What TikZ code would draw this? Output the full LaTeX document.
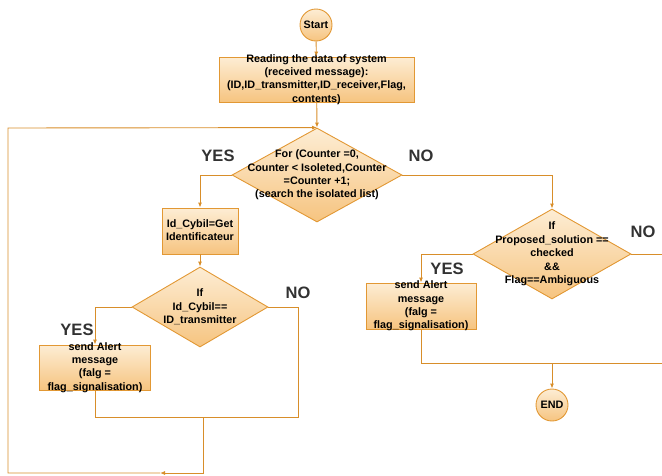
\documentclass[tikz,border=0pt]{standalone}
\usepackage{fontspec}
\setmainfont{Liberation Sans}
\usetikzlibrary{shapes.geometric,arrows.meta}
\definecolor{edge}{RGB}{226,152,52}
\definecolor{wire}{RGB}{216,142,42}
\definecolor{paletop}{RGB}{253,237,212}
\definecolor{deeptop}{RGB}{246,196,128}
\definecolor{labelgray}{RGB}{50,50,50}
\tikzset{
  shaded/.style={draw=edge, line width=0.9pt, top color=paletop, bottom color=deeptop, inner sep=0pt},
  box/.style={shaded, rectangle},
  decision/.style={shaded, diamond},
  terminal/.style={shaded, circle, minimum size=32pt, font=\bfseries\fontsize{10.8}{13}\selectfont},
  txt/.style={align=center, font=\bfseries\fontsize{10.8}{13.4}\selectfont, inner sep=0pt},
  answer/.style={font=\bfseries\fontsize{16.5}{17}\selectfont, text=labelgray, inner sep=0pt},
  wire/.style={draw=wire, line width=0.9pt},
  arr/.style={wire, -{Latex[length=5pt,width=4pt]}},
}
\begin{document}
\begin{tikzpicture}[x=1pt,y=-1pt]
\useasboundingbox (0,0) rectangle (662,475);
\clip (0,0) rectangle (662,475);

% shapes
\node[terminal] (start) at (316,25) {Start};
\node[box, minimum width=195pt, minimum height=45pt] (read) at (316.5,79.5) {};
\node[decision, minimum width=170pt, minimum height=94pt] (d1) at (317,175) {};
\node[box, minimum width=76pt, minimum height=46pt] (cybil) at (200,231) {};
\node[decision, minimum width=136pt, minimum height=80pt] (d2) at (200,307) {};
\node[box, minimum width=111pt, minimum height=45pt] (alert1) at (95,367.5) {};
\node[decision, minimum width=158pt, minimum height=90pt] (d3) at (552,254) {};
\node[box, minimum width=110pt, minimum height=46pt] (alert2) at (421,306) {};
\node[terminal] (end) at (552,405) {END};

% texts
\node[txt] (read-t) at (read.center) {Reading the data of system\\(received message):\\(ID,ID\_transmitter,ID\_receiver,Flag,\\contents)};
\node[txt] (d1-t) at (d1.center) {For (Counter =0,\\Counter < Isoleted,Counter\\=Counter +1;\\(search the isolated list)};
\node[txt] (cybil-t) at ([yshift=1pt]cybil.center) {Id\_Cybil=Get\\Identificateur};
\node[txt] (d2-t) at (d2.center) {If\\Id\_Cybil==\\ID\_transmitter};
\node[txt] (alert1-t) at (alert1.center) {send Alert\\message\\(falg =\\flag\_signalisation)};
\node[txt] (d3-t) at (d3.center) {If\\Proposed\_solution ==\\checked\\\&\&\\Flag==Ambiguous};
\node[txt] (alert2-t) at (alert2.center) {send Alert\\message\\(falg =\\flag\_signalisation)};

% branch labels
\node[answer] (yes1) at (218,156) {YES};
\node[answer] (no1) at (421,156) {NO};
\node[answer] (yes2) at (77,330) {YES};
\node[answer] (no2) at (298,293) {NO};
\node[answer] (yes3) at (447,269) {YES};
\node[answer] (no3) at (643,232) {NO};

% bend points
\coordinate (jr) at (298,417);
\coordinate (jl) at (95,417);
\coordinate (jm) at (203,417);
\coordinate (lb) at (203,473);
\coordinate (mid) at (160,473);
\coordinate (lc) at (8,473);
\coordinate (lt) at (8,128);
\coordinate (rb) at (421,363);
\coordinate (re) at (670,363);
\coordinate (je) at (552,363);
\coordinate (rt) at (670,254);

% connectors
\draw[arr] (start) -- (read);
\draw[arr] (read) -- (d1.north);
\draw[arr] (d1.west) -| (cybil.north);
\draw[arr] (cybil) -- (d2.north);
\draw[arr] (d2.west) -| (alert1.north);
\draw[wire] (d2.east) -| (jr) -- (jl) -- (alert1.south);
\draw[arr] (jm) -- (lb) -- (mid);
\draw[arr] (mid) -- (lc) -- (lt) -- (d1.north);
\draw[arr] (d1.east) -| (d3.north);
\draw[arr] (d3.west) -| (alert2.north);
\draw[wire] (d3.east) -- (rt);
\draw[wire] (alert2.south) -- (rb) -- (re);
\draw[arr] (je) -- (end.north);
\end{tikzpicture}
\end{document}
